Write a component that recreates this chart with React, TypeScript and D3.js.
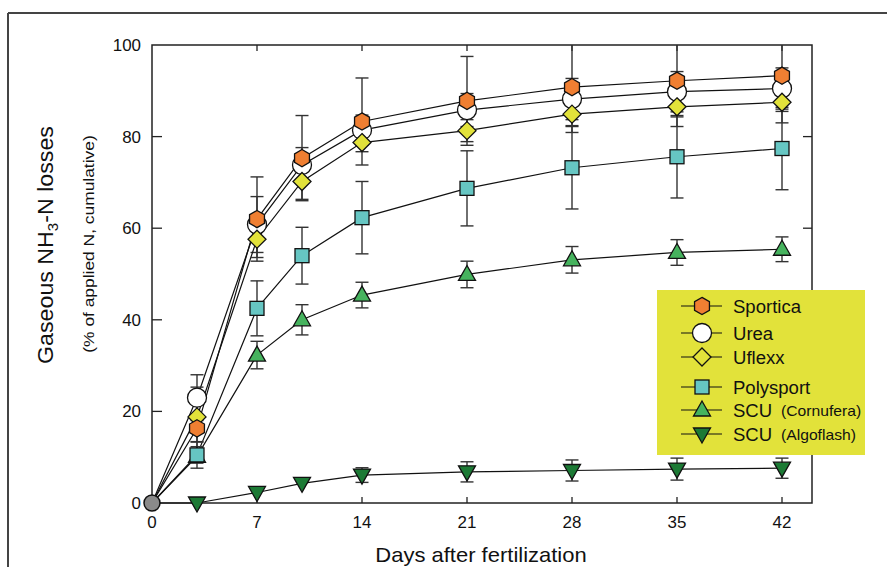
import React from "react";
import * as d3 from "d3";

const days = [0, 3, 7, 10, 14, 21, 28, 35, 42];
const sportica = [0, 16.3, 62.0, 75.3, 83.3, 87.8, 90.8, 92.2, 93.3];
const sporticaErr = [0, 3, 9.2, 9.3, 9.5, 9.7, 9.9, 10, 10.3];
const urea = [0, 23.0, 60.8, 73.8, 81.4, 85.8, 88.2, 89.8, 90.5];
const ureaErr = [0, 5, 6.1, 3.8, 3.3, 3.6, 4.5, 4.4, 4.5];
const uflexx = [0, 18.8, 57.6, 70.2, 78.7, 81.3, 84.9, 86.5, 87.5];
const uflexxErr = [0, 6.5, 4, 3.9, 2, 2.4, 2.5, 2.2, 2];
const polysport = [0, 10.5, 42.5, 54.0, 62.3, 68.7, 73.2, 75.6, 77.4];
const polysportErr = [0, 2.9, 6, 6.2, 7.9, 8.2, 9, 9, 9];
const cornufera = [0, 10.2, 32.3, 40.0, 45.4, 49.9, 53.1, 54.7, 55.4];
const cornuferaErr = [0, 1.5, 3, 3.3, 2.8, 2.9, 2.9, 2.8, 2.7];
const algoflash = [0, 0, 2.3, 4.3, 6.1, 6.8, 7.1, 7.4, 7.6];
const algoflashErr = [0, 0, 0, 0, 1.6, 2.2, 2.3, 2.4, 2.2];

const xTicks = [0, 7, 14, 21, 28, 35, 42];
const yTicks = [0, 20, 40, 60, 80, 100];

type Shape = "hex" | "circle" | "diamond" | "square" | "tri" | "itri";

const seriesList: { name: string; sub?: string; values: number[]; err: number[]; shape: Shape; fill: string }[] = [
  { name: "SCU", sub: "(Algoflash)", values: algoflash, err: algoflashErr, shape: "itri", fill: "#1c7a35" },
  { name: "SCU", sub: "(Cornufera)", values: cornufera, err: cornuferaErr, shape: "tri", fill: "#46b35e" },
  { name: "Polysport", values: polysport, err: polysportErr, shape: "square", fill: "#66c6c3" },
  { name: "Urea", values: urea, err: ureaErr, shape: "circle", fill: "#ffffff" },
  { name: "Uflexx", values: uflexx, err: uflexxErr, shape: "diamond", fill: "#e2e23a" },
  { name: "Sportica", values: sportica, err: sporticaErr, shape: "hex", fill: "#f07f32" },
];

const legendOrder = [5, 3, 4, 2, 1, 0];

const FONT = "'Liberation Sans', Arial, Helvetica, sans-serif";

function Marker({ shape, x, y, fill }: { shape: Shape; x: number; y: number; fill: string }) {
  const st = { fill, stroke: "#111", strokeWidth: 1.3 };
  if (shape === "circle") return <circle cx={x} cy={y} r={9.5} {...st} />;
  if (shape === "square") return <rect x={x - 7} y={y - 7} width={14} height={14} {...st} />;
  if (shape === "diamond") return <path d={`M${x},${y - 9}L${x + 9},${y}L${x},${y + 9}L${x - 9},${y}Z`} {...st} />;
  if (shape === "tri") return <path d={`M${x},${y - 9}L${x + 8.5},${y + 6}L${x - 8.5},${y + 6}Z`} {...st} />;
  if (shape === "itri") return <path d={`M${x},${y + 9}L${x + 8.5},${y - 6}L${x - 8.5},${y - 6}Z`} {...st} />;
  const pts = d3.range(6).map((k) => {
    const a = (-90 + 60 * k) * (Math.PI / 180);
    return [x + 8.6 * Math.cos(a), y + 8.6 * Math.sin(a)];
  });
  return <path d={"M" + pts.map((p) => p.join(",")).join("L") + "Z"} {...st} />;
}

export default function App() {
  const W = 887, H = 567;
  const left = 152, right = 812, top = 45, bottom = 503;
  const x = d3.scaleLinear().domain([0, 44]).range([left, left + 15 * 44]);
  const y = d3.scaleLinear().domain([0, 100]).range([bottom, top]);
  const line = d3.line<number>().x((_, i) => x(days[i])).y((v) => y(v));

  const legendX = 657, legendY = 290;
  const rowY = [306, 333, 357, 387, 410, 434];

  return (
    <svg width={W} height={H} style={{ position: "absolute", left: 0, top: 0, background: "#fff" }} fontFamily={FONT}>
      <defs>
        <clipPath id="plotclip">
          <rect x={left} y={top} width={right - left} height={bottom - top + 20} />
        </clipPath>
      </defs>
      {/* outer frame */}
      <line x1={8} y1={13} x2={887} y2={13} stroke="#444" strokeWidth={2} />
      <line x1={8} y1={13} x2={8} y2={567} stroke="#444" strokeWidth={2} />

      {/* plot box */}
      <rect x={left} y={top} width={right - left} height={bottom - top} fill="none" stroke="#222" strokeWidth={1.5} />

      {/* ticks */}
      {xTicks.filter((t) => t > 0).map((t) => (
        <g key={"xt" + t}>
          <line x1={x(t)} x2={x(t)} y1={bottom} y2={bottom - 6} stroke="#222" strokeWidth={1.3} />
          <line x1={x(t)} x2={x(t)} y1={top} y2={top + 6} stroke="#222" strokeWidth={1.3} />
        </g>
      ))}
      {yTicks.filter((t) => t > 0 && t < 100).map((t) => (
        <g key={"yt" + t}>
          <line x1={left} x2={left + 10} y1={y(t)} y2={y(t)} stroke="#222" strokeWidth={1.3} />
          <line x1={right} x2={right - 9} y1={y(t)} y2={y(t)} stroke="#222" strokeWidth={1.3} />
        </g>
      ))}
      {xTicks.map((t) => (
        <text key={"xl" + t} transform={`translate(${x(t)},528) scale(1.06,1)`} fontSize={16} textAnchor="middle" fill="#111">{t}</text>
      ))}
      {yTicks.map((t) => (
        <text key={"yl" + t} transform={`translate(141,${y(t) + 6}) scale(1.06,1)`} fontSize={16} textAnchor="end" fill="#111">{t}</text>
      ))}

      {/* axis titles */}
      <text transform="translate(481,562) scale(1.1,1)" fontSize={20} textAnchor="middle" fill="#111">Days after fertilization</text>
      <text transform="translate(53,245) rotate(-90) scale(1.08,1)" fontSize={21.5} textAnchor="middle" fill="#111">
        Gaseous NH<tspan fontSize={14} dy={5}>3</tspan><tspan dy={-5}>-N losses</tspan>
      </text>
      <text transform="translate(94,244) rotate(-90) scale(1.2,1)" fontSize={14.5} textAnchor="middle" fill="#111">
        (% of applied N, cumulative)
      </text>

      {/* lines and error bars */}
      <g clipPath="url(#plotclip)">
        {seriesList.map((s, si) => (
          <g key={"s" + si}>
            <path d={line(s.values) || ""} fill="none" stroke="#111" strokeWidth={1.2} />
            {s.values.map((v, i) =>
              s.err[i] > 0 ? (
                <g key={i} stroke="#333" strokeWidth={1.4}>
                  <line x1={x(days[i])} x2={x(days[i])} y1={y(v + s.err[i])} y2={y(v - s.err[i])} />
                  <line x1={x(days[i]) - 6.5} x2={x(days[i]) + 6.5} y1={y(v + s.err[i])} y2={y(v + s.err[i])} />
                  <line x1={x(days[i]) - 6.5} x2={x(days[i]) + 6.5} y1={y(v - s.err[i])} y2={y(v - s.err[i])} />
                </g>
              ) : null
            )}
          </g>
        ))}
      </g>
      {/* markers */}
      {seriesList.map((s, si) => (
        <g key={"m" + si}>
          {s.values.map((v, i) => (i === 0 ? null : <Marker key={i} shape={s.shape} x={x(days[i])} y={y(v)} fill={s.fill} />))}
        </g>
      ))}
      <circle cx={x(0)} cy={y(0)} r={8} fill="#8a8a8a" stroke="#111" strokeWidth={1.5} />

      {/* legend */}
      <rect x={legendX} y={legendY} width={208} height={165} fill="#e2e23a" />
      {legendOrder.map((si, r) => {
        const s = seriesList[si];
        const ry = rowY[r];
        return (
          <g key={"lg" + r}>
            <line x1={681} x2={722} y1={ry} y2={ry} stroke="#111" strokeWidth={1.2} />
            <Marker shape={s.shape} x={702} y={ry} fill={s.fill} />
            <text transform={`translate(733,${ry + 6.5}) scale(1.06,1)`} fontSize={17.5} fill="#111">{s.name}</text>
            {s.sub ? <text transform={`translate(781,${ry + 5.5}) scale(1.12,1)`} fontSize={14} fill="#111">{s.sub}</text> : null}
          </g>
        );
      })}
    </svg>
  );
}
